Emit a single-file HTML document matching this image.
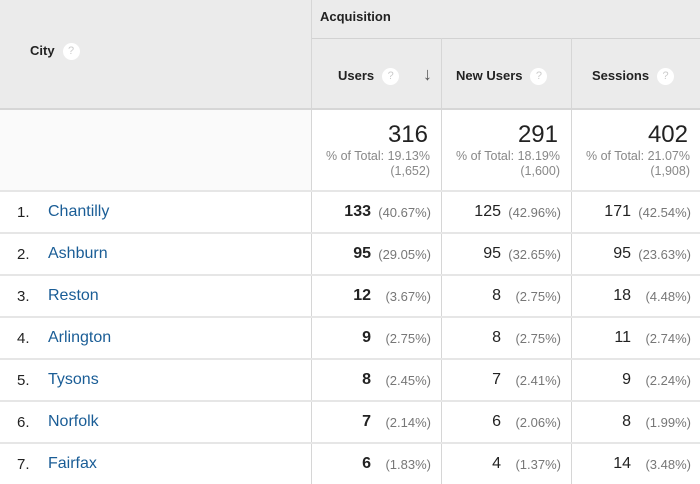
<!DOCTYPE html>
<html><head><meta charset="utf-8"><style>
body{margin:0;width:700px;height:484px;overflow:hidden;background:#fff;font-family:"Liberation Sans",sans-serif;position:relative}
.a{position:absolute}
.hd{font-weight:bold;font-size:13px;color:#222}
.q{display:inline-block;width:17px;height:17px;border-radius:50%;background:#fff;color:#ccc;font-size:11px;text-align:center;line-height:17px;font-weight:normal;vertical-align:middle;margin-left:8px}
.city{font-size:16px;color:#1a5d96}
.idx{font-size:15px;color:#222}
.num{font-size:16px;color:#222;text-align:right}
.pct{font-size:13px;color:#777}
.tot{font-size:24px;color:#222;text-align:right}
.sub{font-size:12.5px;color:#888;text-align:right;line-height:15px}
</style></head><body>
<div class="a" style="left:0;top:0;width:700px;height:109px;background:#ebebeb"></div>
<div class="a" style="left:0;top:108px;width:700px;height:2px;background:#d6d6d6"></div>
<div class="a" style="left:0;top:110px;width:311px;height:80px;background:#fafafa"></div>
<div class="a" style="left:311px;top:38px;width:389px;height:1px;background:#d2d2d2"></div>
<div class="a hd" style="left:320px;top:9px">Acquisition</div>
<div class="a hd" style="left:30px;top:43px">City<span class="q">?</span></div>
<div class="a hd" style="left:338px;top:68px">Users<span class="q">?</span></div>
<div class="a" style="left:423px;top:64px;font-size:18px;color:#555;font-weight:bold">↓</div>
<div class="a hd" style="left:456px;top:68px">New Users<span class="q">?</span></div>
<div class="a hd" style="left:592px;top:68px">Sessions<span class="q">?</span></div>
<div id="root"></div>
<script>
const cities=["Chantilly","Ashburn","Reston","Arlington","Tysons","Norfolk","Fairfax"];
const users=[133,95,12,9,8,7,6];
const usersPct=["40.67%","29.05%","3.67%","2.75%","2.45%","2.14%","1.83%"];
const newUsers=[125,95,8,8,7,6,4];
const newUsersPct=["42.96%","32.65%","2.75%","2.75%","2.41%","2.06%","1.37%"];
const sessions=[171,95,18,11,9,8,14];
const sessionsPct=["42.54%","23.63%","4.48%","2.74%","2.24%","1.99%","3.48%"];
const totals=[316,291,402];
const totalPct=["19.13%","18.19%","21.07%"];
const totalAll=["1,652","1,600","1,908"];
const root=document.getElementById('root');
const colX=[311,441,571];const colW=130;
function add(cls,style,html){const d=document.createElement('div');d.className='a '+cls;d.style.cssText=style;d.innerHTML=html;root.appendChild(d);return d;}
colX.forEach((x,i)=>{
  const l=add('','left:'+x+'px;top:38px;width:1px;height:446px;background:#d6d6d6','');
  
  
  if(i===0){l.style.top='0px';l.style.height='484px';}
  const t=add('tot','left:'+x+'px;top:121px;width:'+(colW-13)+'px',totals[i]);
  
  
  const s=add('sub','left:'+x+'px;top:149px;width:'+(colW-11)+'px','% of Total: '+totalPct[i]+'<br>('+totalAll[i]+')');
  
  
});
const rowH=42,top0=190;
cities.forEach((c,r)=>{
  const y=top0+r*rowH;
  const b=add('','left:0;top:'+y+'px;width:700px;height:2px;background:#e6e6e6','');
  
  
  const ix=add('idx','left:17px;top:'+(y+14)+'px',(r+1)+'.');
  
  
  const cn=add('city','left:48px;top:'+(y+13)+'px',c);
  
  
  const vals=[[users,usersPct],[newUsers,newUsersPct],[sessions,sessionsPct]];
  vals.forEach((v,i)=>{
    const x=colX[i];
    const n=add('num','left:'+x+'px;top:'+(y+13)+'px;width:60px;'+(i===0?'font-weight:bold':''),v[0][r]);
    
    
    const p=add('pct','right:'+(700-x-colW+10)+'px;top:'+(y+15)+'px','('+v[1][r]+')');
    
    
  });
});
</script>
</body></html>
